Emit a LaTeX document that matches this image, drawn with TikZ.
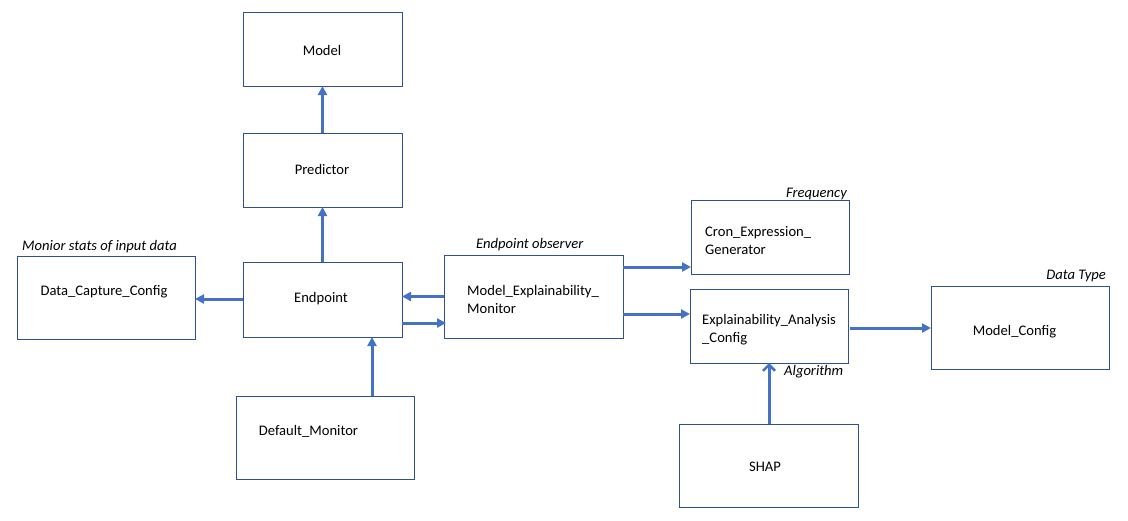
\documentclass[tikz,border=0pt]{standalone}
\usepackage{fontspec}
\setmainfont{Carlito}
\usetikzlibrary{arrows.meta}
\definecolor{boxc}{HTML}{2F528F}
\definecolor{arrc}{HTML}{4472C4}
\tikzset{
  box/.style={draw=boxc, line width=0.9pt, rectangle, inner sep=0pt, outer sep=0pt, anchor=north west},
  txt/.style={inner sep=0pt, text height=9.5pt, text depth=3pt, yshift=-2pt, font=\fontsize{14.6}{18}\selectfont},
  mtxt/.style={inner sep=0pt, align=left, anchor=west, yshift=-1.5pt, font=\fontsize{14.6}{18}\selectfont},
  note/.style={inner sep=0pt, text height=9.5pt, text depth=3pt, yshift=-1.5pt, font=\fontsize{14.6}{18}\selectfont\itshape},
  arr/.style={draw=arrc, line width=3pt, -{Triangle[length=9pt,width=9pt]}},
  varr/.style={draw=arrc, line width=3pt, -{Straight Barb[length=6pt,width=12pt,line width=2.5pt]}}
}
\begin{document}
\begin{tikzpicture}[x=1pt,y=-1pt]
\useasboundingbox (0,0) rectangle (1128,520);
% boxes
\node[box, minimum width=159pt, minimum height=74pt] (model) at (243,12) {};
\node[box, minimum width=159pt, minimum height=74pt] (pred) at (243,133) {};
\node[box, minimum width=159pt, minimum height=75pt] (ep) at (243,262) {};
\node[box, minimum width=178pt, minimum height=83pt] (dcc) at (17,256) {};
\node[box, minimum width=178pt, minimum height=83pt] (dm) at (236,396) {};
\node[box, minimum width=179pt, minimum height=83pt] (mem) at (444,255) {};
\node[box, minimum width=158pt, minimum height=74pt] (cron) at (691,200) {};
\node[box, minimum width=158pt, minimum height=74pt] (eac) at (690,289) {};
\node[box, minimum width=178pt, minimum height=83pt] (mc) at (931,286) {};
\node[box, minimum width=179pt, minimum height=83pt] (shap) at (679,424) {};
% texts
\node[txt] (tmodel) at (322,50) {Model};
\node[txt] (tpred) at (322,169) {Predictor};
\node[txt] (tep) at (321,297) {Endpoint};
\node[txt] (tdcc) at (104,290) {Data\_Capture\_Config};
\node[txt] (tdm) at (308.5,430) {Default\_Monitor};
\node[txt] (tshap) at (765,466) {SHAP};
\node[txt] (tmc) at (1014.5,330) {Model\_Config};
\node[mtxt] (tmem) at (467,298) {Model\_Explainability\_\\Monitor};
\node[mtxt] (tcron) at (705,239.5) {Cron\_Expression\_\\Generator};
\node[mtxt] (teac) at (702,328) {Explainability\_Analysis\\\_Config};
% notes
\node[note, anchor=west] (n1) at (22,246) {Monior stats of input data};
\node[note, anchor=west] (n2) at (476,244) {Endpoint observer};
\node[note, anchor=east] (n3) at (847,193) {Frequency};
\node[note, anchor=east] (n4) at (1106,275) {Data Type};
\node[note, anchor=west] (n5) at (784,371) {Algorithm};
% connectors
\draw[arr] (pred.north) -- (model.south);
\draw[arr] (ep.north) -- (pred.south);
\draw[arr] (ep.west |- 0,299) -- (dcc.east |- 0,299);
\draw[arr] (mem.west |- 0,296.5) -- (ep.east |- 0,296.5);
\draw[arr] (ep.east |- 0,323) -- ([xshift=2pt]mem.west |- 0,323);
\draw[arr] (dm.north -| 372,0) -- (ep.south -| 372,0);
\draw[arr] (mem.east |- 0,267) -- (cron.west |- 0,267);
\draw[arr] (mem.east |- 0,314) -- (eac.west |- 0,314);
\draw[arr] ([xshift=1.5pt]eac.east |- 0,328) -- (mc.west |- 0,328);
\draw[varr] (shap.north -| 769,0) -- (eac.south -| 769,0);
\end{tikzpicture}
\end{document}
